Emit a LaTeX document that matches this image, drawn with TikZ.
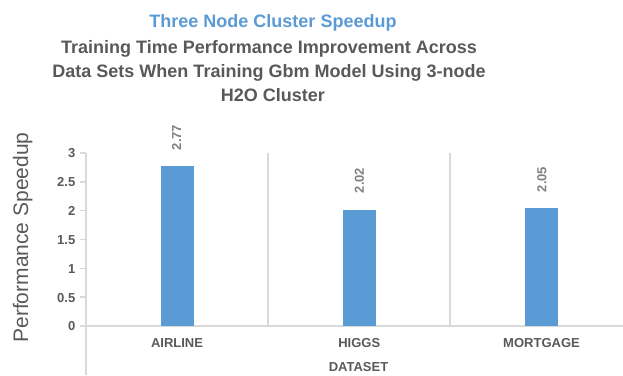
\documentclass[tikz,border=0pt]{standalone}
\usepackage{fontspec}
\setmainfont{Liberation Sans}
\definecolor{barblue}{HTML}{5B9BD5}
\definecolor{txtgray}{HTML}{595959}
\definecolor{valgray}{HTML}{7F7F7F}
\definecolor{axgray}{HTML}{D9D9D9}
\tikzset{
  titlefont/.style={font=\bfseries\fontsize{18bp}{24bp}\selectfont, anchor=base, inner sep=0pt},
  ticklab/.style={font=\bfseries\fontsize{13bp}{15bp}\selectfont, text=txtgray, anchor=east, inner sep=0pt},
  catlab/.style={font=\bfseries\fontsize{13bp}{15bp}\selectfont, text=txtgray, anchor=base, inner sep=0pt},
  vallab/.style={font=\bfseries\fontsize{13bp}{15bp}\selectfont, text=valgray, rotate=90, inner sep=0pt},
  axline/.style={draw=axgray, line width=1.5bp},
  bar/.style={fill=barblue, draw=none},
}
\begin{document}
\begin{tikzpicture}[x=1bp, y=-1bp]
\useasboundingbox (0,0) rectangle (623,375);
% titles
\node[titlefont, text=barblue] (t1) at (273,27) {Three Node Cluster Speedup};
\node[titlefont, text=txtgray] (t2) at (269,53) {Training Time Performance Improvement Across};
\node[titlefont, text=txtgray] (t3) at (269,77) {Data Sets When Training Gbm Model Using 3-node};
\node[titlefont, text=txtgray] (t4) at (273,101) {H2O Cluster};
% y axis title
\node[font=\fontsize{21bp}{24bp}\selectfont, text=txtgray, rotate=90, anchor=base, inner sep=0pt] (ytitle) at (28,237.5) {Performance Speedup};
% axes and separators
\draw[axline] (86,153) -- (86,375);
\draw[axline] (80,326) -- (623,326);
\draw[axline] (268,153) -- (268,326);
\draw[axline] (450,153) -- (450,326);
% ticks and labels
\foreach \v/\lab in {0/0,0.5/0.5,1/1,1.5/1.5,2/2,2.5/2.5,3/3} {
  \draw[axline] (80,{326-\v*57.667}) -- (86,{326-\v*57.667});
  \node[ticklab] at (75.5,{326.5-\v*57.667}) {\lab};
}
% bars
\fill[bar] (160.5,326) rectangle (193.5,{326-2.77*57.667});
\fill[bar] (342.7,326) rectangle (375.7,{326-2.02*57.667});
\fill[bar] (525,326) rectangle (558,{326-2.05*57.667});
% value labels
\node[vallab] (v1) at (176.5,137.5) {2.77};
\node[vallab] (v2) at (359.5,180.5) {2.02};
\node[vallab] (v3) at (542,179.5) {2.05};
% category labels
\node[catlab] (c1) at (177,347.3) {AIRLINE};
\node[catlab] (c2) at (359.3,347.3) {HIGGS};
\node[catlab] (c3) at (541.5,347.3) {MORTGAGE};
\node[catlab] (xt) at (358.5,371.7) {DATASET};
\end{tikzpicture}
\end{document}
